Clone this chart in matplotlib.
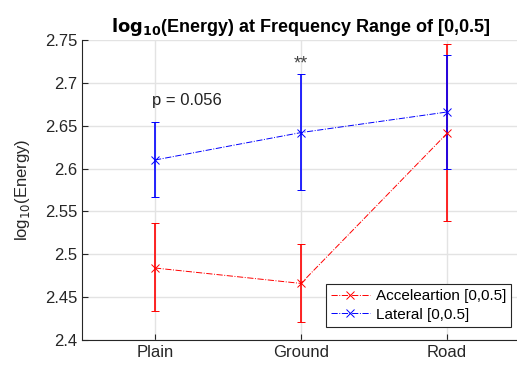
import matplotlib.pyplot as plt
from matplotlib.lines import Line2D

plt.rcParams['font.family'] = ['Liberation Sans', 'DejaVu Sans']

categories = ["Plain", "Ground", "Road"]
accel_mean = [2.484, 2.466, 2.641]
accel_low = [2.434, 2.421, 2.539]
accel_high = [2.537, 2.512, 2.745]
lat_mean = [2.610, 2.642, 2.666]
lat_low = [2.567, 2.575, 2.600]
lat_high = [2.654, 2.710, 2.732]

x = [1, 2, 3]

fig = plt.figure(figsize=(5.17, 3.69), dpi=100)
ax = fig.add_axes([82 / 517, 29 / 369, 438 / 517, 300 / 369])

acc_err = [[m - l for m, l in zip(accel_mean, accel_low)],
           [h - m for m, h in zip(accel_mean, accel_high)]]
lat_err = [[m - l for m, l in zip(lat_mean, lat_low)],
           [h - m for m, h in zip(lat_mean, lat_high)]]

style = dict(ls="-.", lw=0.7, marker="x", ms=6, mew=0.7,
             elinewidth=1.2, capsize=3, capthick=1.2)
ax.errorbar(x, accel_mean, yerr=acc_err, color="red", **style)
ax.errorbar(x, lat_mean, yerr=lat_err, color="blue", **style)

ax.text(0.98, 2.679, "p = 0.056", fontsize=12, va="center", ha="left", color="#222222")
ax.text(2, 2.722, "**", fontsize=13, va="center", ha="center", color="#444444")

ax.set_xlim(0.5, 3.5)
ax.set_ylim(2.4, 2.75)
ax.set_xticks(x)
ax.set_xticklabels(categories)
ax.set_yticks([2.4, 2.45, 2.5, 2.55, 2.6, 2.65, 2.7, 2.75])
ax.set_yticklabels(["2.4", "2.45", "2.5", "2.55", "2.6", "2.65", "2.7", "2.75"])
ax.tick_params(direction="in", labelsize=12, colors="#262626", length=4)
ax.grid(True, color="#e3e3e3", lw=1)
ax.set_axisbelow(True)
for s in ["top", "right"]:
    ax.spines[s].set_visible(False)
for s in ["left", "bottom"]:
    ax.spines[s].set_color("#262626")
    ax.spines[s].set_linewidth(0.8)

ax.set_ylabel(r"log$_{10}$(Energy)", fontsize=12, color="#262626", labelpad=9)
ax.set_title(r"$\mathbf{log_{10}}$(Energy) at Frequency Range of [0,0.5]",
             fontsize=13, fontweight="bold", pad=6)

handles = [Line2D([], [], color="red", ls="-.", lw=0.7, marker="x", ms=6, mew=0.7),
           Line2D([], [], color="blue", ls="-.", lw=0.7, marker="x", ms=6, mew=0.7)]
leg = ax.legend(handles, ["Acceleartion [0,0.5]", "Lateral [0,0.5]"],
                loc="lower left", bbox_to_anchor=((326 - 82) / 438, 13 / 300),
                borderaxespad=0, fontsize=11, frameon=True, fancybox=False,
                edgecolor="#262626", framealpha=1, borderpad=0.35,
                handlelength=2.5, handletextpad=0.4, labelspacing=0.3)
leg.get_frame().set_linewidth(0.8)

fig.savefig("out.png", dpi=100)
